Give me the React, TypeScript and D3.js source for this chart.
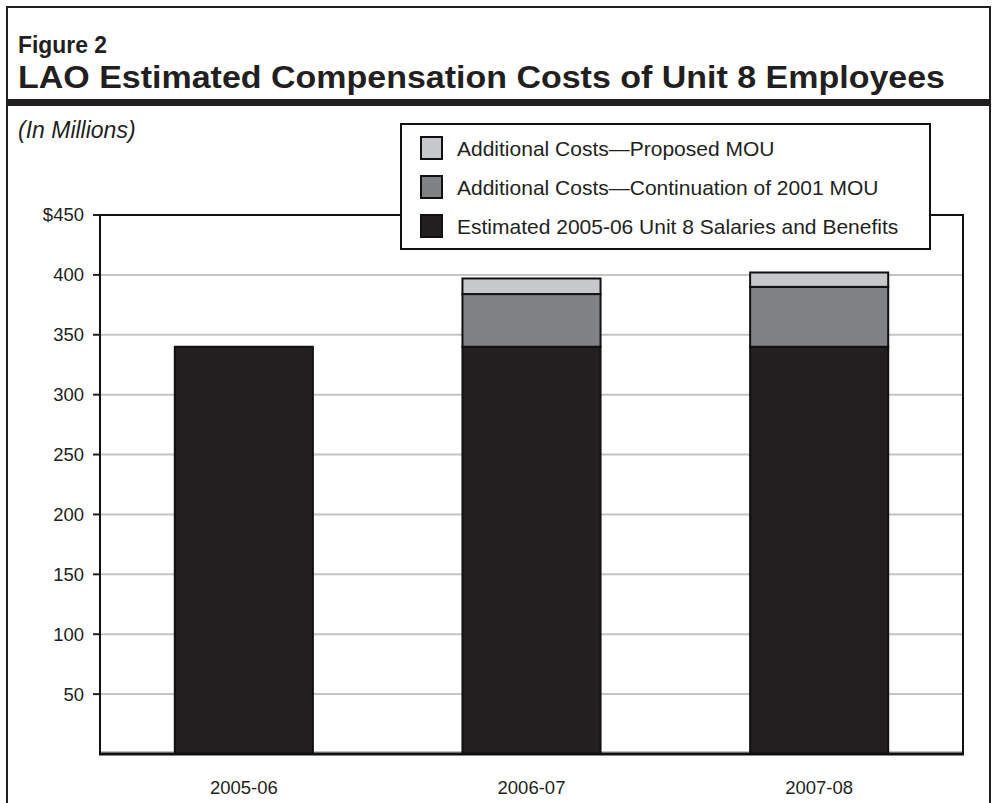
import * as d3 from 'd3'

const years = ['2005-06', '2006-07', '2007-08']
const baseCosts = [340, 340, 340]
const continuationCosts = [0, 44, 50]
const proposedCosts = [0, 13, 12]
const yTicks = [50, 100, 150, 200, 250, 300, 350, 400, 450]

const seriesNames = [
  'Estimated 2005-06 Unit 8 Salaries and Benefits',
  'Additional Costs\u2014Continuation of 2001 MOU',
  'Additional Costs\u2014Proposed MOU',
]
const seriesColors = ['#231f20', '#808285', '#c7c8ca']

export default function App() {
  const width = 992
  const height = 803
  const margin = { top: 215, right: 29, bottom: 49, left: 100 }
  const innerW = width - margin.left - margin.right
  const innerH = height - margin.top - margin.bottom

  const rows = years.map((y, i) => ({
    year: y,
    base: baseCosts[i],
    cont: continuationCosts[i],
    prop: proposedCosts[i],
  }))
  const stack = d3.stack<any>().keys(['base', 'cont', 'prop'])(rows)

  const x = d3.scaleBand().domain(years).range([0, innerW]).paddingInner(0.52).paddingOuter(0.26)
  const y = d3.scaleLinear().domain([0, 450]).range([innerH, 0])

  const font = 'Liberation Sans, Arial, Helvetica, sans-serif'

  // legend (top item = proposed)
  const legendItems = [2, 1, 0]

  return (
    <svg width={width} height={height} style={{ position: 'absolute', left: 0, top: 0, background: '#fff' }} fontFamily={font}>
      {/* outer frame */}
      <path d="M7,803 V7 H990 V803" fill="none" stroke="#231f20" strokeWidth={2} />
      <rect x={7} y={99} width={983} height={7} fill="#231f20" />
      <text x={18} y={53} fontSize={23} fontWeight="bold" fill="#231f20" textLength={89} lengthAdjust="spacingAndGlyphs">Figure 2</text>
      <text x={18} y={88} fontSize={31} fontWeight="bold" fill="#231f20" textLength={927} lengthAdjust="spacingAndGlyphs">
        LAO Estimated Compensation Costs of Unit 8 Employees
      </text>
      <text x={18} y={138} fontSize={23} fontStyle="italic" fill="#231f20">(In Millions)</text>

      <g transform={`translate(${margin.left},${margin.top})`}>
        {yTicks.map(t => (
          <g key={t}>
            <line x1={0} x2={innerW} y1={y(t)} y2={y(t)} stroke="#c4c4c4" strokeWidth={2} />
            <line x1={-7} x2={0} y1={y(t)} y2={y(t)} stroke="#231f20" strokeWidth={2} />
            <text x={-16} y={y(t)} dy="0.35em" textAnchor="end" fontSize={18.5} fill="#231f20">
              {t === 450 ? '$450' : t}
            </text>
          </g>
        ))}
        <line x1={0} x2={innerW} y1={innerH - 2} y2={innerH - 2} stroke="#c4c4c4" strokeWidth={2} />

        {stack.map((layer, li) =>
          layer.map((d, i) =>
            d[1] - d[0] > 0 ? (
              <rect
                key={`${li}-${i}`}
                x={x(years[i])}
                y={y(d[1])}
                width={x.bandwidth()}
                height={y(d[0]) - y(d[1])}
                fill={seriesColors[li]}
                stroke="#111"
                strokeWidth={2}
              />
            ) : null
          )
        )}

        {/* plot frame */}
        <rect x={0} y={0} width={innerW} height={innerH} fill="none" stroke="#111" strokeWidth={2} />
        <line x1={-1} x2={innerW + 1} y1={innerH} y2={innerH} stroke="#111" strokeWidth={3} />

        {years.map(yr => (
          <text key={yr} x={(x(yr) || 0) + x.bandwidth() / 2} y={innerH + 40} textAnchor="middle" fontSize={18.5} fill="#231f20">
            {yr}
          </text>
        ))}
      </g>

      {/* legend */}
      <rect x={401} y={124} width={529} height={125} fill="#fff" stroke="#111" strokeWidth={2} />
      {legendItems.map((si, k) => (
        <g key={si} transform={`translate(421,${137 + k * 39})`}>
          <rect x={0} y={0} width={21} height={22} fill={seriesColors[si]} stroke="#111" strokeWidth={2} />
          <text x={36} y={19} fontSize={21} fill="#231f20">{seriesNames[si]}</text>
        </g>
      ))}
    </svg>
  )
}
